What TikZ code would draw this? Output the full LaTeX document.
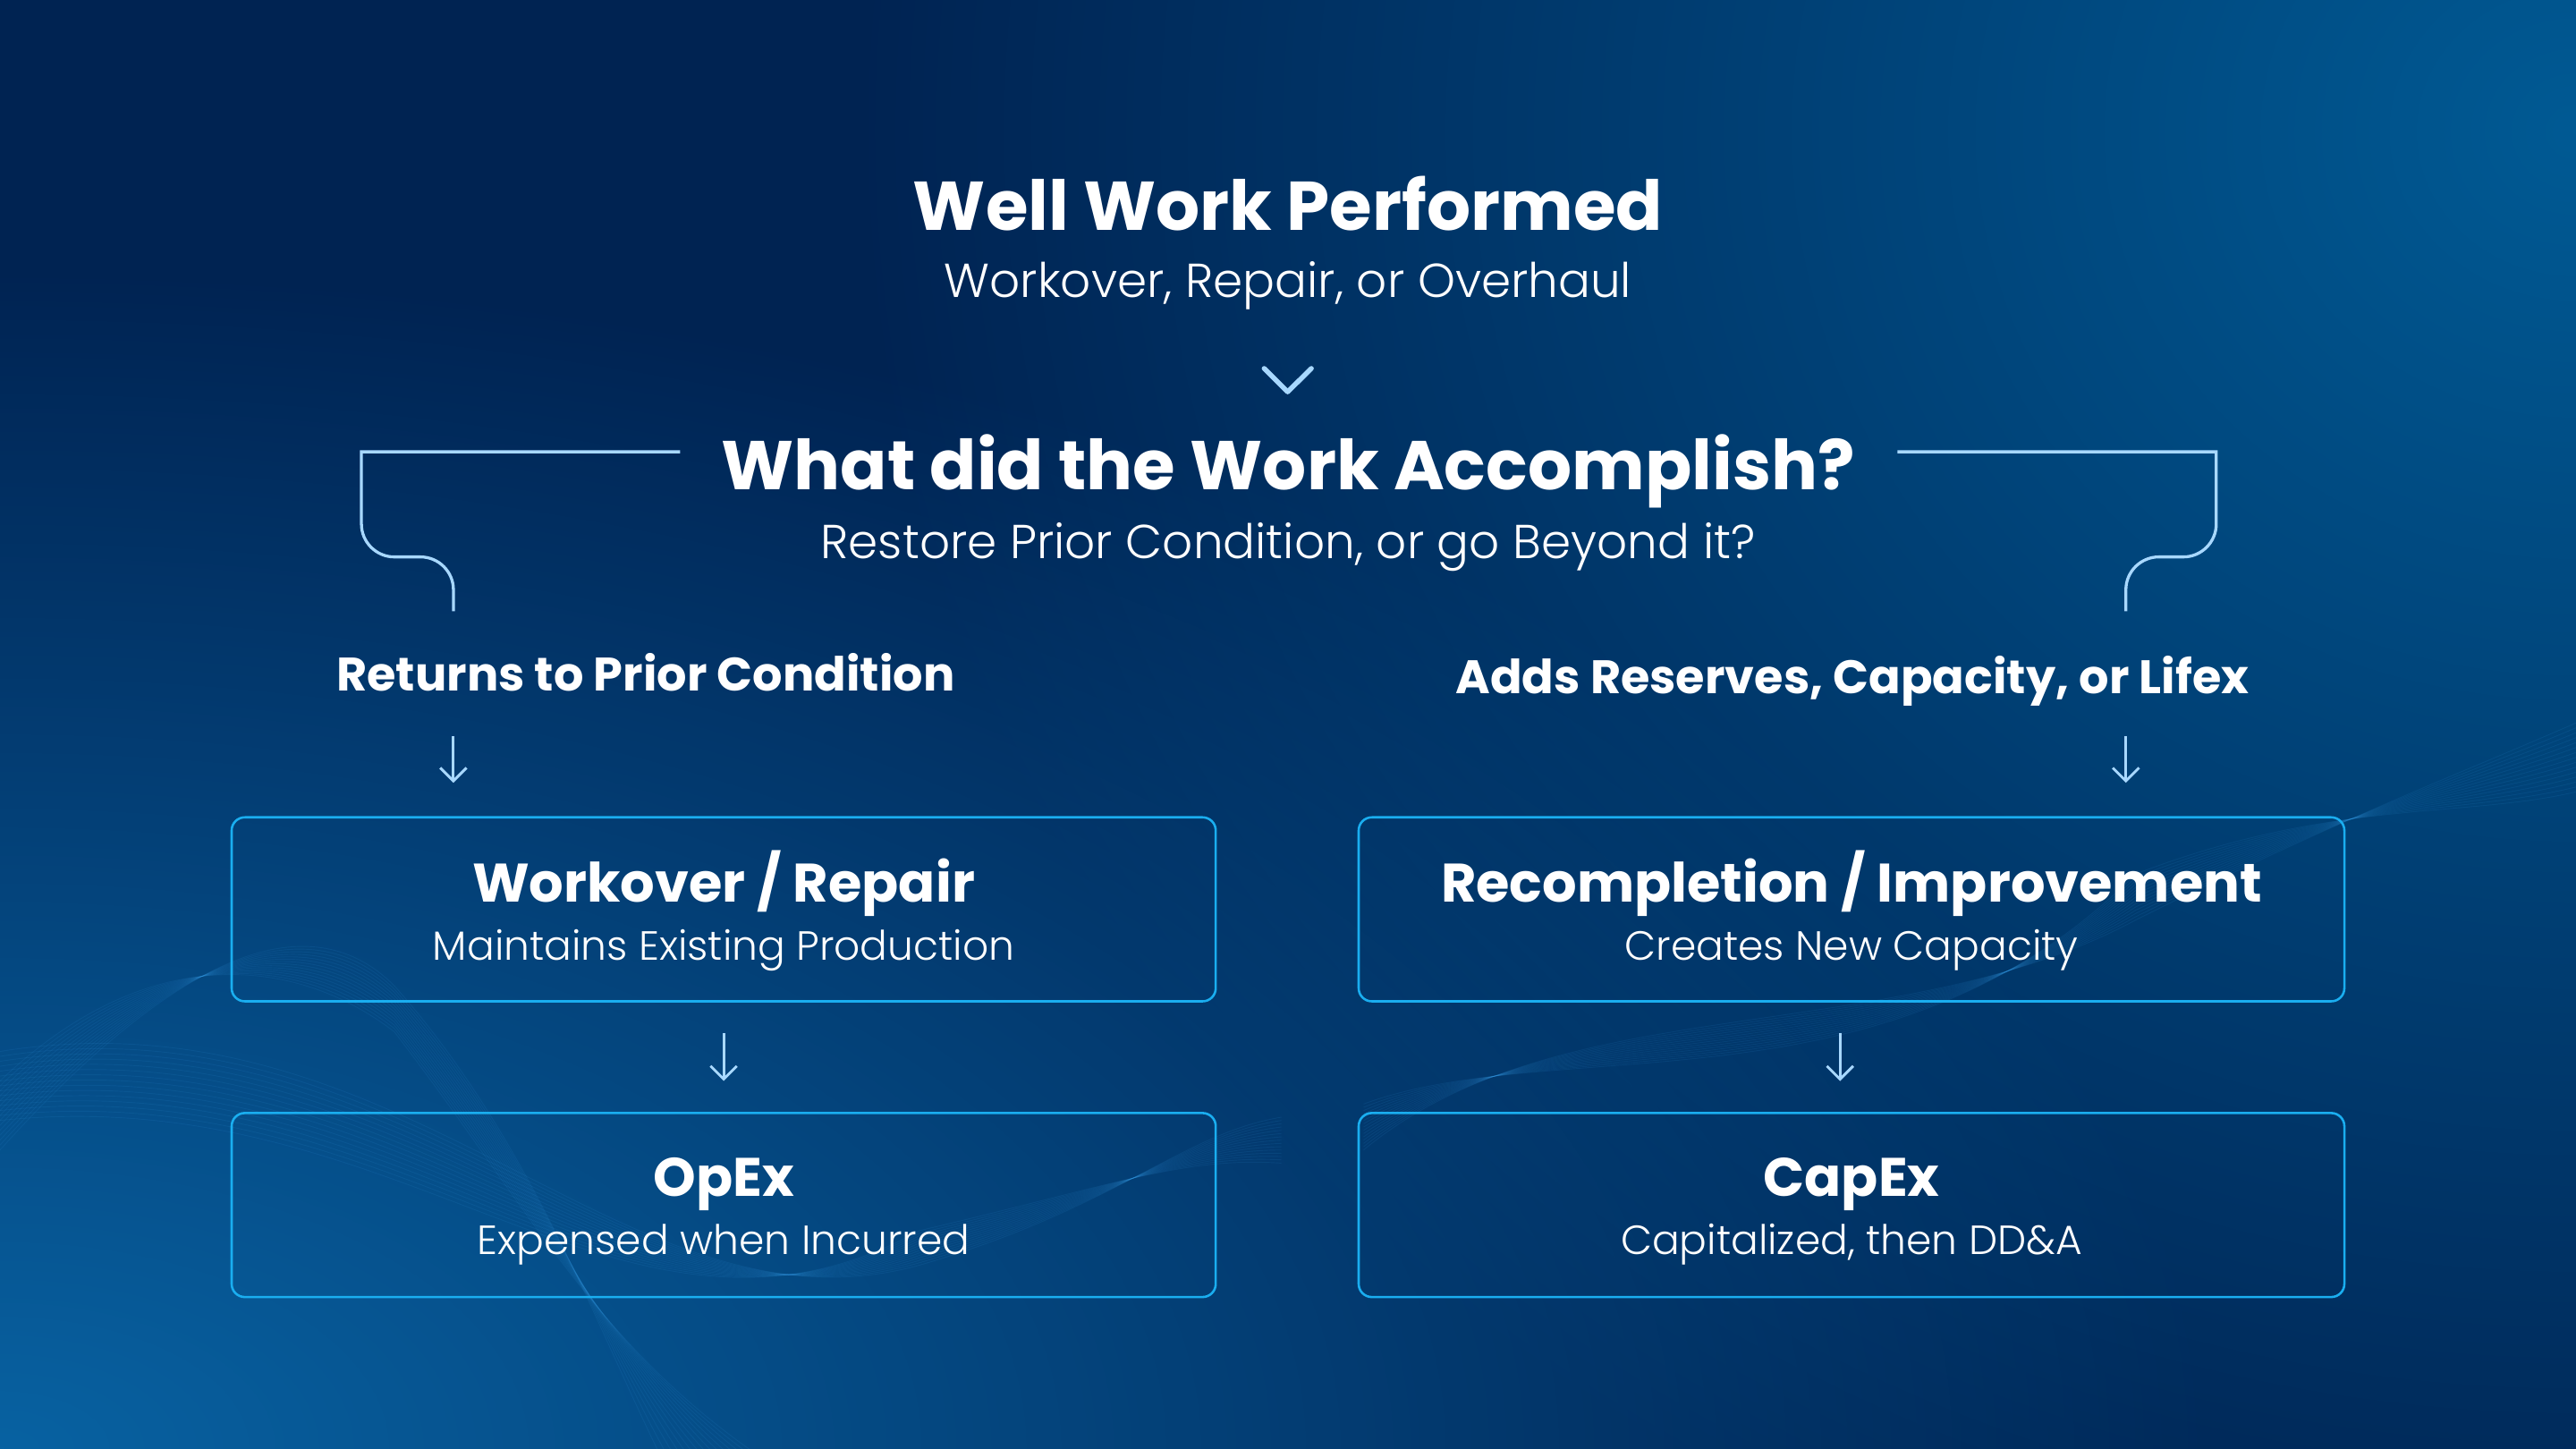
\documentclass[tikz,border=0pt]{standalone}
\usepackage{fontspec}
\setmainfont{Poppins}
\newfontfamily\lfont{Poppins Light}
\usetikzlibrary{arrows.meta,fadings}
\definecolor{bgc}{HTML}{002352}
\definecolor{glowtr}{HTML}{005A94}
\definecolor{glowbl}{HTML}{0862A2}
\definecolor{boxc}{HTML}{1AAEF0}
\definecolor{arrc}{HTML}{A8D8FF}
\definecolor{wavec}{HTML}{3FA9F5}
\tikzfading[name=glowfade, inner color=transparent!0, outer color=transparent!100]
\begin{document}
\begin{tikzpicture}[x=1pt,y=-1pt,
  ttl/.style={font=\bfseries\fontsize{42}{46}\selectfont, text=white, inner sep=0pt, anchor=base},
  sttl/.style={font=\lfont\fontsize{29}{33}\selectfont, text=white, inner sep=0pt, anchor=base},
  lbl/.style={font=\bfseries\fontsize{28.6}{33}\selectfont, text=white, inner sep=0pt, anchor=base},
  boxt/.style={font=\bfseries\fontsize{33}{37}\selectfont, text=white, inner sep=0pt, anchor=base},
  boxs/.style={font=\lfont\fontsize{24.8}{28}\selectfont, text=white, inner sep=0pt, anchor=base},
  card/.style={draw=boxc, line width=1.4pt, rounded corners=8pt},
  arr/.style={draw=arrc, line width=1.6pt, -{Straight Barb[length=8pt,width=16pt,line width=1.6pt]}},
  brk/.style={draw=arrc, line width=1.8pt},
  wave/.style={draw=wavec, line width=0.5pt, opacity=0.09}
]
\useasboundingbox (0,0) rectangle (1568,882);
% background
\fill[bgc] (0,0) rectangle (1568,882);
\begin{scope}
\clip (0,0) rectangle (1568,882);
\fill[glowtr, path fading=glowfade] (1568,80) ellipse [x radius=1050pt, y radius=950pt];
\fill[glowbl, path fading=glowfade] (0,882) ellipse [x radius=1350pt, y radius=720pt];
% waves
\foreach \i in {0,...,14}{
  \draw[wave] (0,{640+\i*3}) .. controls (250,{600+\i*4}) and (380,{820+\i*2}) .. (560,{770-\i*1.5}) .. controls (680,{735-\i}) and (720,{690+\i}) .. (780,{680+\i*2});
  \draw[wave] (0,{700-\i*3}) .. controls (90,{600-\i*2}) and (180,{540+\i*3}) .. (240,{600+\i*2}) .. controls (320,{690+\i*3}) and (360,{800+\i}) .. ({400+\i*4},882);
  \draw[wave] (830,{700-\i*2}) .. controls (950,{600+\i*2}) and (1150,{640+\i*3}) .. (1300,{560-\i*2}) .. controls (1420,{500-\i}) and (1500,{470+\i*2}) .. (1568,{440+\i*3});
}
\end{scope}

% headings
\node[ttl] (t1) at (784,140) {Well Work Performed};
\node[sttl] (s1) at (784,181) {Workover, Repair, or Overhaul};
\node[ttl] (t2) at (784,298) {What did the Work Accomplish?};
\node[sttl] (s2) at (784,340) {Restore Prior Condition, or go Beyond it?};

% chevron
\coordinate (cv1) at (769.5,224.3);
\coordinate (cv2) at (783.8,238.5);
\coordinate (cv3) at (798.2,224.3);
\draw[draw=arrc, line width=3pt, line cap=round, line join=round] (cv1) -- (cv2) -- (cv3);

% branch labels
\node[lbl] (l1) at (393,420.5) {Returns to Prior Condition};
\node[lbl] (l2) at (1127.5,422) {Adds Reserves, Capacity, or Lifex};

% brackets
\coordinate (bl0) at (414,275);
\coordinate (bl1) at (220,275);
\coordinate (bl2) at (276,372);
\draw[brk] (bl0) -- (bl1) -- (220,319) .. controls (220,330) and (229,339) .. (240,339) -- (256,339) .. controls (267,339) and (276,348) .. (276,359) -- (bl2);
\coordinate (br0) at (1155,275);
\coordinate (br1) at (1349,275);
\coordinate (br2) at (1294,372);
\draw[brk] (br0) -- (br1) -- (1349,319) .. controls (1349,330) and (1340,339) .. (1329,339) -- (1314,339) .. controls (1303,339) and (1294,348) .. (1294,359) -- (br2);

% cards
\draw[card] (141,497.5) rectangle (740,609.5);
\draw[card] (827,497.5) rectangle (1427,609.5);
\draw[card] (141,677.5) rectangle (740,789.5);
\draw[card] (827,677.5) rectangle (1427,789.5);

\node[boxt] (b1t) at (440.5,549) {Workover / Repair};
\node[boxs] (b1s) at (440.5,584.5) {Maintains Existing Production};
\node[boxt] (b2t) at (1127,549) {Recompletion / Improvement};
\node[boxs] (b2s) at (1127,584.5) {Creates New Capacity};
\node[boxt] (b3t) at (440.5,728) {OpEx};
\node[boxs] (b3s) at (440.5,763.5) {Expensed when Incurred};
\node[boxt] (b4t) at (1127,728) {CapEx};
\node[boxs] (b4s) at (1127,763.5) {Capitalized, then DD\&A};

% arrows
\coordinate (a1s) at (276,448); \coordinate (a1e) at (276,476.5);
\coordinate (a2s) at (1294,448); \coordinate (a2e) at (1294,476.5);
\coordinate (a3s) at (440.5,629); \coordinate (a3e) at (440.5,658);
\coordinate (a4s) at (1120,629); \coordinate (a4e) at (1120,658);
\draw[arr] (a1s) -- (a1e);
\draw[arr] (a2s) -- (a2e);
\draw[arr] (a3s) -- (a3e);
\draw[arr] (a4s) -- (a4e);
\end{tikzpicture}
\end{document}
